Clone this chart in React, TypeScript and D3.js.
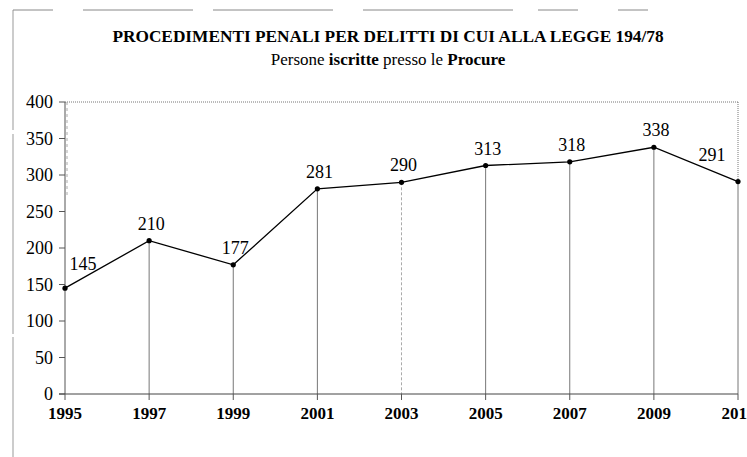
import React from "react";
import * as d3 from "d3";

const years = [1995, 1997, 1999, 2001, 2003, 2005, 2007, 2009, 2011];
const values = [145, 210, 177, 281, 290, 313, 318, 338, 291];
const yTicks = [0, 50, 100, 150, 200, 250, 300, 350, 400];
const title = "PROCEDIMENTI PENALI PER DELITTI DI CUI ALLA LEGGE 194/78";

const W = 747;
const H = 457;
const M = { left: 65, right: 9, top: 102, bottom: 63 };
const SERIF = '"Liberation Serif", "Times New Roman", "DejaVu Serif", serif';

export default function App() {
  const x = d3.scaleLinear().domain([1995, 2011]).range([M.left, W - M.right]);
  const y = d3.scaleLinear().domain([0, 400]).range([H - M.bottom, M.top]);
  const line = d3
    .line<number>()
    .x((_, i) => x(years[i]))
    .y((d) => y(d));
  const last = values.length - 1;
  const labelPos = (i: number) => {
    const px = x(years[i]);
    const py = y(values[i]);
    if (i === 0) return [px + 18, py - 18];
    if (i === last) return [px - 26, py - 21];
    return [px + 2, py - 11];
  };
  const ts = { fontFamily: SERIF };
  return (
    <svg
      width={W}
      height={H}
      style={{ position: "absolute", left: 0, top: 0, background: "#fff", fontFamily: SERIF }}
    >
      {/* outer frame fragments */}
      <line x1={13} y1={10} x2={13} y2={H} stroke="#999" strokeWidth={1} strokeDasharray="120,4,200,3" />
      <line x1={13} y1={10} x2={W} y2={10} stroke="#888" strokeWidth={1} strokeDasharray="40,30,110,20,120,30,150,25,40" />

      <text x={388} y={42} textAnchor="middle" fontSize={17.3} fontWeight="bold" style={ts}>
        {title}
      </text>
      <text x={388} y={65} textAnchor="middle" fontSize={17} style={ts}>
        <tspan>Persone </tspan>
        <tspan fontWeight="bold">iscritte</tspan>
        <tspan> presso le </tspan>
        <tspan fontWeight="bold">Procure</tspan>
      </text>

      {/* plot area border (dotted) */}
      <line x1={x(1995)} y1={y(400)} x2={x(2011)} y2={y(400)} stroke="#777" strokeWidth={1} strokeDasharray="1,1" />
      <line x1={x(2011)} y1={y(400)} x2={x(2011)} y2={y(values[last])} stroke="#777" strokeWidth={1} strokeDasharray="1,1" />
      <line x1={x(1995) + 2} y1={y(400)} x2={x(1995) + 2} y2={y(270)} stroke="#aaa" strokeWidth={1} strokeDasharray="3,3" />

      {/* drop lines */}
      {values.map((v, i) =>
        i === 0 ? null : (
          <line
            key={"d" + i}
            x1={x(years[i])}
            x2={x(years[i])}
            y1={y(v)}
            y2={y(0)}
            stroke={years[i] === 2003 ? "#aaa" : "#777"}
            strokeWidth={1}
            strokeDasharray={years[i] === 2003 ? "3,2" : undefined}
          />
        )
      )}

      {/* y axis */}
      <line x1={x(1995)} x2={x(1995)} y1={y(400)} y2={y(0)} stroke="#555" strokeWidth={1} />
      {yTicks.map((t) => (
        <g key={"y" + t}>
          <line x1={x(1995) - 6} x2={x(1995)} y1={y(t)} y2={y(t)} stroke="#555" />
          <text x={53} y={y(t)} dy="0.35em" textAnchor="end" fontSize={18} style={ts}>
            {t}
          </text>
        </g>
      ))}

      {/* x axis */}
      <line x1={x(1995) - 6} x2={x(2011)} y1={y(0)} y2={y(0)} stroke="#444" strokeWidth={1} />
      {years.map((yr) => (
        <g key={"x" + yr}>
          <line x1={x(yr)} x2={x(yr)} y1={y(0)} y2={y(0) + 6} stroke="#555" />
          <text x={x(yr)} y={419} textAnchor="middle" fontSize={17} fontWeight="bold" style={ts}>
            {yr}
          </text>
        </g>
      ))}

      {/* series */}
      <path d={line(values) || ""} fill="none" stroke="#000" strokeWidth={1.3} />
      {values.map((v, i) => (
        <circle key={"c" + i} cx={x(years[i])} cy={y(v)} r={2.6} fill="#000" />
      ))}
      {values.map((v, i) => {
        const [lx, ly] = labelPos(i);
        return (
          <text key={"l" + i} x={lx} y={ly} textAnchor="middle" fontSize={18} style={ts}>
            {v}
          </text>
        );
      })}
    </svg>
  );
}
